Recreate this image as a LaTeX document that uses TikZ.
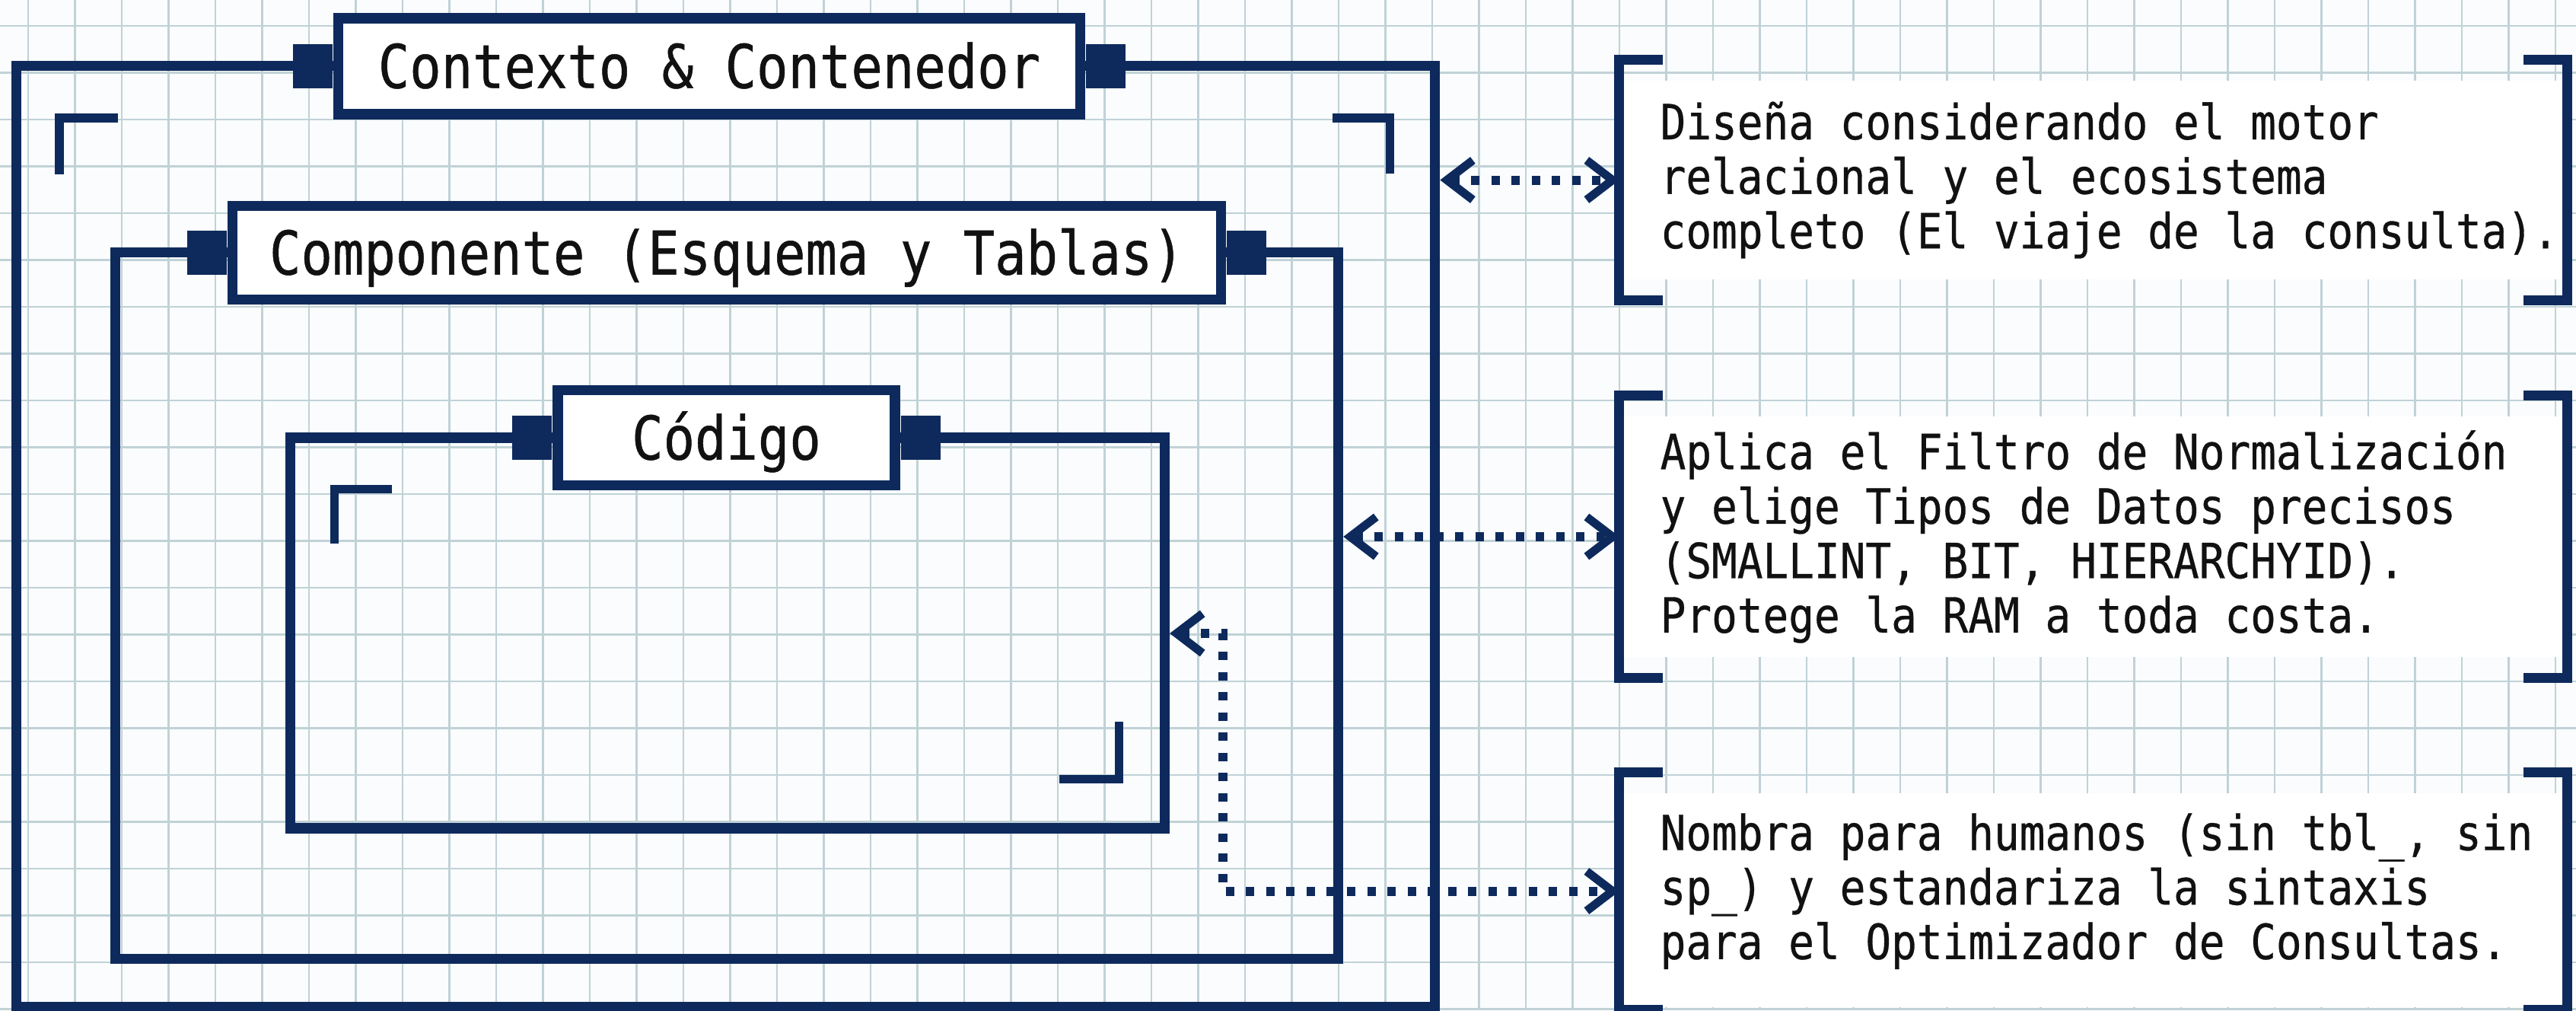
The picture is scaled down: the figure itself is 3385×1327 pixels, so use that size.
\documentclass[tikz,border=0pt]{standalone}
\usepackage{fontspec}
\usetikzlibrary{arrows.meta,calc}
\newfontfamily\titlefont[FakeStretch=0.87,FakeBold=0.6]{DejaVu Sans Mono}
\newfontfamily\bodyfont[FakeStretch=0.88,FakeBold=0.5]{DejaVu Sans Mono}
\definecolor{navy}{HTML}{0E2A5C}
\definecolor{gridc}{HTML}{C0D2D6}
\definecolor{paper}{HTML}{FAFCFD}
\definecolor{ink}{HTML}{111111}
\begin{document}
\begin{tikzpicture}[x=0.01cm,y=-0.01cm,
  framebox/.style={draw=navy, line width=0.135cm, rectangle, inner sep=0pt},
  titlebox/.style={draw=navy, fill=white, line width=0.135cm, inner sep=0pt, text=ink,
    font=\titlefont\fontsize{22.5}{26}\selectfont, text height=0.57cm, text depth=0cm},
  tabbox/.style={fill=navy, minimum width=0.52cm, minimum height=0.57cm, inner sep=0pt},
  notebox/.style={inner sep=0pt, minimum width=12.43cm},
  notetext/.style={inner sep=0pt, align=left, text=ink,
    font=\bodyfont\fontsize{18.1}{20.35}\selectfont},
  bracket/.style={draw=navy, line width=0.13cm, line join=miter},
  corner/.style={draw=navy, line width=0.11cm, line join=miter},
  conn/.style={draw=navy, line width=0.12cm, dash pattern=on 0.11cm off 0.155cm,
    {Straight Barb[length=0.34cm,width=0.52cm,line width=0.11cm]}-{Straight Barb[length=0.34cm,width=0.52cm,line width=0.11cm]}},
  gridline/.style={draw=gridc, line width=0.027cm}]

\useasboundingbox (0,0) rectangle (3385,1327);
\fill[paper] (0,0) rectangle (3385,1327);

% grid
\foreach \k in {0,...,54} { \draw[gridline] ({37+61.5*\k},0) -- ({37+61.5*\k},1327); }
\foreach \k in {0,...,21} { \draw[gridline] (0,{34+61.5*\k}) -- (3385,{34+61.5*\k}); }

% nested frames
\node[framebox, minimum width=18.63cm, minimum height=12.35cm] (outer) at (953.5,704.5) {};
\node[framebox, minimum width=16.06cm, minimum height=9.27cm] (comp) at (955,795.5) {};
\node[framebox, minimum width=11.48cm, minimum height=5.13cm] (cod) at (956,831.5) {};

% title boxes
\node[titlebox, minimum width=9.74cm, minimum height=1.26cm] (ctxt) at (932,87) {Contexto \& Contenedor};
\node[tabbox, anchor=east] (ctxl) at (ctxt.west) {};
\node[tabbox, anchor=west] (ctxr) at (ctxt.east) {};

\node[titlebox, minimum width=12.98cm, minimum height=1.23cm] (compt) at (955,332) {Componente (Esquema y Tablas)};
\node[tabbox, anchor=east] (compl) at (compt.west) {};
\node[tabbox, anchor=west] (compr) at (compt.east) {};

\node[titlebox, minimum width=4.43cm, minimum height=1.25cm] (codt) at (954.5,575) {Código};
\node[tabbox, anchor=east] (codl) at (codt.west) {};
\node[tabbox, anchor=west] (codr) at (codt.east) {};

% corner marks
\draw[corner] (155,155) -- (78,155) -- (78,229);
\draw[corner] (1751,155) -- (1826,155) -- (1826,228);
\draw[corner] (515,642) -- (439,642) -- (439,714);
\draw[corner] (1392,1023) -- (1470,1023) -- (1470,948);

% note boxes
\node[notebox, minimum height=3.15cm] (n1) at (2750.5,236.5) {};
\node[notebox, minimum height=3.70cm] (n2) at (2750.5,705) {};
\node[notebox, minimum height=3.11cm] (n3) at (2750.5,1170.5) {};

\fill[white] ($(n1.north west)+(0,28)$) rectangle ($(n1.south east)+(0,-28)$);
\fill[white] ($(n2.north west)+(0,28)$) rectangle ($(n2.south east)+(0,-28)$);
\fill[white] ($(n3.north west)+(0,28)$) rectangle ($(n3.south east)+(0,-4)$);

\foreach \n in {n1,n2,n3} {
  \draw[bracket] ($(\n.north west)+(57,0)$) -- (\n.north west) -- (\n.south west) -- ($(\n.south west)+(57,0)$);
  \draw[bracket] ($(\n.north east)+(-57,0)$) -- (\n.north east) -- (\n.south east) -- ($(\n.south east)+(-57,0)$);
}

\node[notetext, anchor=west] (t1) at ($(n1.west)+(53,0)$) {Diseña considerando el motor\\relacional y el ecosistema\\completo (El viaje de la consulta).};
\node[notetext, anchor=west] (t2) at ($(n2.west)+(53,0)$) {Aplica el Filtro de Normalización\\y elige Tipos de Datos precisos\\(SMALLINT, BIT, HIERARCHYID).\\Protege la RAM a toda costa.};
\node[notetext, anchor=west] (t3) at ($(n3.west)+(53,0)$) {Nombra para humanos (sin tbl\_, sin\\sp\_) y estandariza la sintaxis\\para el Optimizador de Consultas.};

% connectors
\draw[conn] (outer.east |- n1.west) -- (n1.west);
\draw[conn] (comp.east |- n2.west) -- (n2.west);
\coordinate (j3) at (1607,832);
\draw[conn] (cod.east |- j3) -- (j3) |- (n3.west);

\end{tikzpicture}
\end{document}
